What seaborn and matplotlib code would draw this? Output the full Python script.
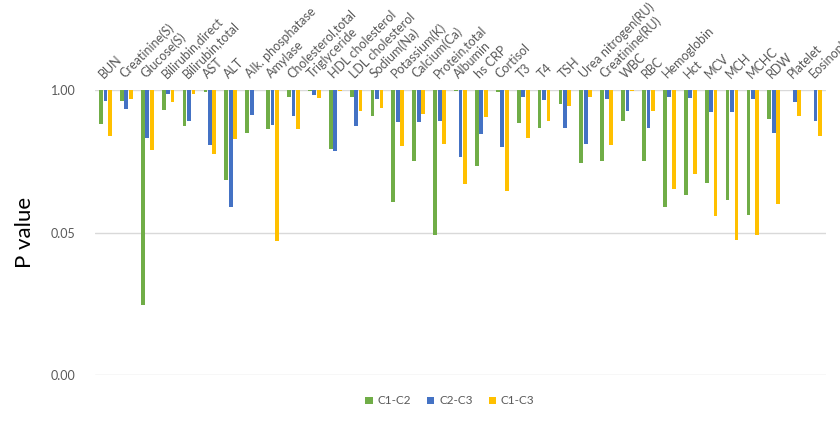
import numpy as np
import pandas as pd
import matplotlib
matplotlib.use("Agg")
import matplotlib.pyplot as plt
import matplotlib.transforms as mtransforms
from matplotlib.patches import Patch
import seaborn as sns

tests = ["BUN", "Creatinine(S)", "Glucose(S)", "Bilirubin,direct", "Bilirubin,total",
         "AST", "ALT", "Alk. phosphatase", "Amylase", "Cholesterol,total",
         "Triglyceride", "HDL cholesterol", "LDL cholesterol", "Sodium(Na)", "Potassium(K)",
         "Calcium(Ca)", "Protein,total", "Albumin", "hs CRP", "Cortisol",
         "T3", "T4", "TSH", "Urea nitrogen(RU)", "Creatinine(RU)",
         "WBC", "RBC", "Hemoglobin", "Hct", "MCV",
         "MCH", "MCHC", "RDW", "Platelet", "Eosinophil"]

c1_c2 = [0.490, 0.799, 0.0109, 0.658, 0.473,
         0.953, 0.152, 0.409, 0.444, 0.869,
         0.979, 0.289, 0.858, 0.583, 0.0951,
         0.227, 0.0479, 0.980, 0.203, 0.953,
         0.504, 0.448, 0.741, 0.215, 0.223,
         0.526, 0.227, 0.0857, 0.111, 0.143,
         0.0992, 0.0718, 0.541, 1.0, 1.0]

c2_c3 = [0.799, 0.672, 0.368, 0.920, 0.526,
         0.316, 0.0857, 0.592, 0.480, 0.580,
         0.901, 0.275, 0.473, 0.823, 0.515,
         0.515, 0.526, 0.244, 0.395, 0.301,
         0.858, 0.811, 0.448, 0.323, 0.823,
         0.648, 0.454, 0.869, 0.840, 0.627,
         0.635, 0.823, 0.409, 0.773, 0.526]

c1_c3 = [0.381, 0.828, 0.284, 0.783, 0.920,
         0.262, 0.358, 1.0, 0.0417, 0.439,
         0.851, 0.979, 0.644, 0.690, 0.309,
         0.601, 0.323, 0.139, 0.572, 0.119,
         0.363, 0.526, 0.720, 0.858, 0.316,
         0.980, 0.644, 0.125, 0.171, 0.0714,
         0.0423, 0.0479, 0.0918, 0.583, 0.381]

series = ["C1-C2", "C2-C3", "C1-C3"]
colors = ["#70AD47", "#4472C4", "#FFC000"]

# long table; axis is log base 20 (1 -> 0.05 -> 0.0025), bars hang from 1.00
df = pd.DataFrame({
    "test": tests * 3,
    "comp": np.repeat(series, len(tests)),
    "p": c1_c2 + c2_c3 + c1_c3,
})
df["logp"] = np.log(df["p"]) / np.log(20)

sns.set_style("white")
plt.rcParams["font.family"] = ["Lato", "DejaVu Sans"]

fig = plt.figure(figsize=(8.4, 4.22), dpi=100)
ax = fig.add_axes([95 / 840, 47 / 422, 731 / 840, 285 / 422])

sns.barplot(data=df, x="test", y="logp", hue="comp", palette=colors,
            width=0.64, gap=0.15, saturation=1, linewidth=0,
            ax=ax, legend=False)

ax.set_ylim(-2, 0)
ax.set_xlim(-0.5, len(tests) - 0.5)
ax.set_yticks([0, -1, -2])
ax.set_yticklabels(["1.00", "0.05", "0.00"])
ax.yaxis.grid(True, color="#d9d9d9", linewidth=1)
ax.set_axisbelow(True)
for s in ax.spines.values():
    s.set_visible(False)

ax.xaxis.tick_top()
ax.set_xticks(range(len(tests)))
ax.set_xticklabels(tests, rotation=45, ha="left", va="bottom",
                   rotation_mode="anchor", fontsize=9, color="#595959")
shift = mtransforms.ScaledTranslation(5 / 100, 0, fig.dpi_scale_trans)
for lab in ax.get_xticklabels():
    lab.set_transform(lab.get_transform() + shift)
ax.tick_params(axis="x", length=0, pad=7)
ax.tick_params(axis="y", length=0, pad=14, labelsize=9, labelcolor="#595959")
ax.set_xlabel("")
ax.set_ylabel("")
fig.text(25 / 840, 1 - 232 / 422, "P value", rotation=90, fontsize=16,
         color="black", ha="center", va="center")

handles = [Patch(facecolor=c, edgecolor="none", label=s) for s, c in zip(series, colors)]
fig.legend(handles=handles, loc="center", bbox_to_anchor=(450 / 840, 1 - 401 / 422),
           ncol=3, frameon=False, fontsize=8.5, labelcolor="#595959",
           handlelength=0.6, handleheight=0.6, handletextpad=0.4, columnspacing=1.4)

fig.savefig("out.png", dpi=100)
